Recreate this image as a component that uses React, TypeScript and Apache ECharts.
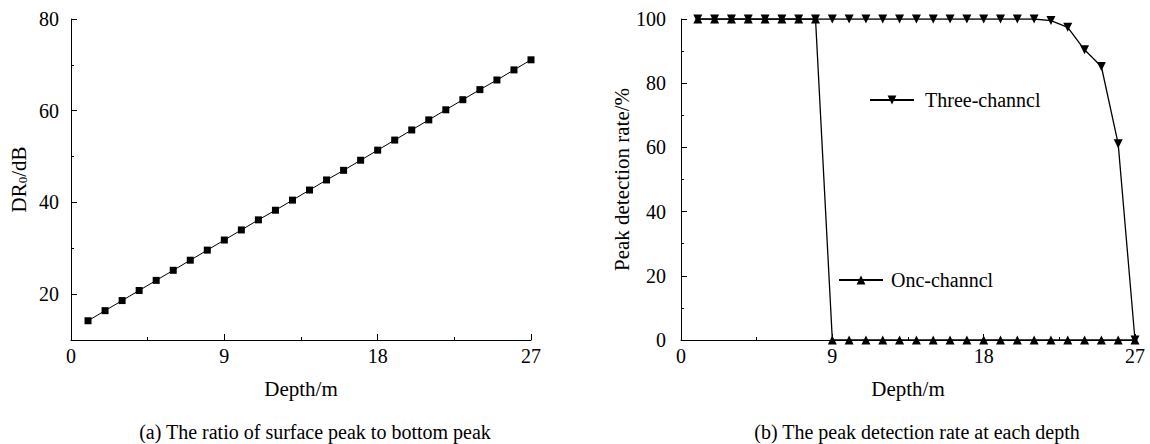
import React, { useEffect, useRef } from "react";
import * as echarts from "echarts";

const depths = [1, 2, 3, 4, 5, 6, 7, 8, 9, 10, 11, 12, 13, 14, 15, 16, 17, 18, 19, 20, 21, 22, 23, 24, 25, 26, 27];
const drValues = [14.2, 16.4, 18.6, 20.8, 23.0, 25.2, 27.4, 29.6, 31.8, 34.0, 36.2, 38.3, 40.5, 42.7, 44.9, 47.0, 49.2, 51.4, 53.6, 55.8, 58.0, 60.2, 62.4, 64.6, 66.7, 68.9, 71.1];
const threeChannel = [100, 100, 100, 100, 100, 100, 100, 100, 100, 100, 100, 100, 100, 100, 100, 100, 100, 100, 100, 100, 100, 99.5, 97.4, 90.4, 85.2, 61.1, 0];
const oneChannel = [100, 100, 100, 100, 100, 100, 100, 100, 0, 0, 0, 0, 0, 0, 0, 0, 0, 0, 0, 0, 0, 0, 0, 0, 0, 0, 0];
const leftYMajor = [20, 40, 60, 80];
const leftYMinor = [30, 50, 70];
const captionA = "(a) The ratio of surface peak to bottom peak";
const captionB = "(b) The peak detection rate at each depth";

const FONT = "Liberation Serif, Times New Roman, serif";
const BLACK = "#000";

const pairs = (ys: number[]) => depths.map((d, i) => [d, ys[i]]);

export default function App() {
  const ref = useRef<HTMLDivElement>(null);
  useEffect(() => {
    if (!ref.current) return;
    const chart = echarts.init(ref.current, undefined, { renderer: "svg" });
    const axisLine = { show: true, lineStyle: { color: BLACK, width: 1 } };
    const label = { color: BLACK, fontSize: 20, fontFamily: FONT };
    const xAxisBase = (gridIndex: number) => ({
      type: "value",
      gridIndex,
      min: 0,
      max: 27,
      interval: 9,
      name: "Depth/m",
      nameLocation: "middle",
      nameGap: 38,
      nameTextStyle: { ...label, fontSize: 21 },
      axisLine,
      axisTick: { show: true, inside: true, length: 6, lineStyle: { color: BLACK } },
      minorTick: { show: true, splitNumber: 2, length: 3, lineStyle: { color: BLACK } },
      axisLabel: { ...label, margin: 6 },
      splitLine: { show: false },
    });
    chart.setOption({
      animation: false,
      backgroundColor: "#fff",
      textStyle: { fontFamily: FONT },
      title: [
        { text: captionA, left: 310, top: 417, textAlign: "center", textStyle: { ...label, fontWeight: "normal" } },
        { text: captionB, left: 912, top: 417, textAlign: "center", textStyle: { ...label, fontWeight: "normal" } },
      ],
      legend: [
        {
          data: ["Three-channcl"],
          left: 864,
          top: 85,
          itemWidth: 44,
          itemHeight: 11,
          textStyle: { ...label, padding: [0, 0, 0, 6] },
        },
        {
          data: ["Onc-channcl"],
          left: 833,
          top: 265,
          itemWidth: 44,
          itemHeight: 11,
          textStyle: { ...label, padding: [0, 0, 0, 3] },
        },
      ],
      grid: [
        { left: 71, top: 19, width: 460, height: 321 },
        { left: 681, top: 19, width: 454, height: 321 },
      ],
      xAxis: [xAxisBase(0), xAxisBase(1)],
      yAxis: [
        {
          type: "value",
          gridIndex: 0,
          min: 10,
          max: 80,
          name: "DR{sub|0}/dB",
          nameLocation: "middle",
          nameGap: 42,
          nameTextStyle: {
            ...label,
            fontSize: 21,
            rich: { sub: { fontSize: 13, fontFamily: FONT, color: BLACK, verticalAlign: "bottom", lineHeight: 13 } },
          },
          axisLine,
          axisTick: { show: true, inside: true, length: 6, customValues: leftYMajor, lineStyle: { color: BLACK } },
          axisLabel: { ...label, margin: 12, customValues: leftYMajor },
          splitLine: { show: false },
        },
        {
          type: "value",
          gridIndex: 0,
          position: "left",
          min: 10,
          max: 80,
          axisLine: { show: false },
          axisTick: { show: true, inside: true, length: 3, customValues: leftYMinor, lineStyle: { color: BLACK } },
          axisLabel: { show: false },
          splitLine: { show: false },
        },
        {
          type: "value",
          gridIndex: 1,
          min: 0,
          max: 100,
          interval: 20,
          name: "Peak detection rate/%",
          nameLocation: "middle",
          nameGap: 42,
          nameTextStyle: { ...label, fontSize: 21 },
          axisLine,
          axisTick: { show: true, inside: true, length: 6, lineStyle: { color: BLACK } },
          minorTick: { show: true, splitNumber: 2, length: 3, lineStyle: { color: BLACK } },
          axisLabel: { ...label, margin: 15 },
          splitLine: { show: false },
        },
      ],
      series: [
        {
          name: "DR0",
          type: "line",
          xAxisIndex: 0,
          yAxisIndex: 0,
          data: pairs(drValues),
          symbol: "rect",
          symbolSize: 7,
          lineStyle: { color: BLACK, width: 1 },
          itemStyle: { color: BLACK },
        },
        {
          name: "Three-channcl",
          type: "line",
          xAxisIndex: 1,
          yAxisIndex: 2,
          data: pairs(threeChannel),
          symbol: "triangle",
          symbolRotate: 180,
          symbolSize: 9,
          lineStyle: { color: BLACK, width: 1.3 },
          itemStyle: { color: BLACK },
        },
        {
          name: "Onc-channcl",
          type: "line",
          xAxisIndex: 1,
          yAxisIndex: 2,
          data: pairs(oneChannel),
          symbol: "triangle",
          symbolSize: 9,
          lineStyle: { color: BLACK, width: 1.3 },
          itemStyle: { color: BLACK },
        },
      ],
    });
    return () => chart.dispose();
  }, []);
  return <div ref={ref} style={{ position: "fixed", left: 0, top: 0, width: 1150, height: 444 }} />;
}
